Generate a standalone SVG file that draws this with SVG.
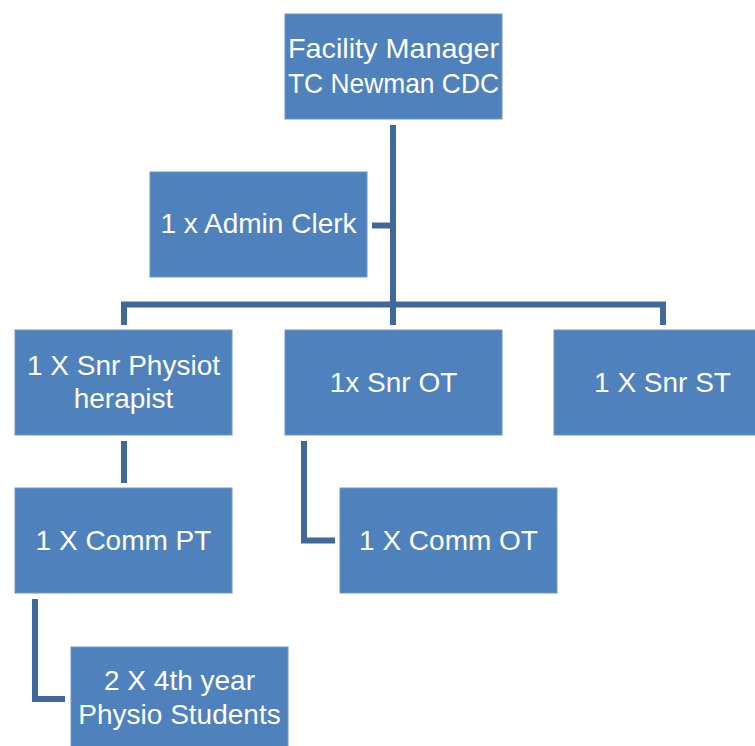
<svg xmlns="http://www.w3.org/2000/svg" width="755" height="746" viewBox="0 0 755 746">
<style>
.box{fill:#4f81bd;stroke:#6f96c8;stroke-width:1}
.t{fill:#ffffff;font-family:"Liberation Sans",Arial,sans-serif;font-size:28px;text-anchor:middle}
.c{fill:none;stroke:#41689b;stroke-width:6;stroke-linecap:butt;stroke-linejoin:miter}
</style>
<rect width="755" height="746" fill="#ffffff"/>
<g id="connectors">
<path class="c" d="M393 125 V325"/>
<path class="c" d="M372 225.5 H393"/>
<path class="c" d="M124 325 V304.5 H663 V325"/>
<path class="c" d="M124 441 V483"/>
<path class="c" d="M304 441 V540.5 H335"/>
<path class="c" d="M35 599 V699 H65"/>
</g>
<g id="facility-manager">
<rect class="box" x="285" y="14" width="217" height="105"/>
<text class="t" x="393.5" y="58" textLength="211" lengthAdjust="spacingAndGlyphs">Facility Manager</text>
<text class="t" x="393.5" y="93" textLength="211" lengthAdjust="spacingAndGlyphs">TC Newman CDC</text>
</g>
<g id="admin-clerk">
<rect class="box" x="150" y="172" width="217" height="105"/>
<text class="t" x="258.5" y="233">1 x Admin Clerk</text>
</g>
<g id="snr-physio">
<rect class="box" x="15" y="330" width="217" height="105"/>
<text class="t" x="123.5" y="375">1 X Snr Physiot</text>
<text class="t" x="123.5" y="408">herapist</text>
</g>
<g id="snr-ot">
<rect class="box" x="285" y="330" width="217" height="105"/>
<text class="t" x="393.5" y="392">1x Snr OT</text>
</g>
<g id="snr-st">
<rect class="box" x="554" y="330" width="217" height="105"/>
<text class="t" x="662.5" y="392">1 X Snr ST</text>
</g>
<g id="comm-pt">
<rect class="box" x="15" y="488" width="217" height="105"/>
<text class="t" x="123.5" y="550">1 X Comm PT</text>
</g>
<g id="comm-ot">
<rect class="box" x="340" y="488" width="217" height="105"/>
<text class="t" x="448.5" y="550">1 X Comm OT</text>
</g>
<g id="physio-students">
<rect class="box" x="71" y="647" width="217" height="105"/>
<text class="t" x="179.5" y="690">2 X 4th year</text>
<text class="t" x="179.5" y="724">Physio Students</text>
</g>
</svg>
